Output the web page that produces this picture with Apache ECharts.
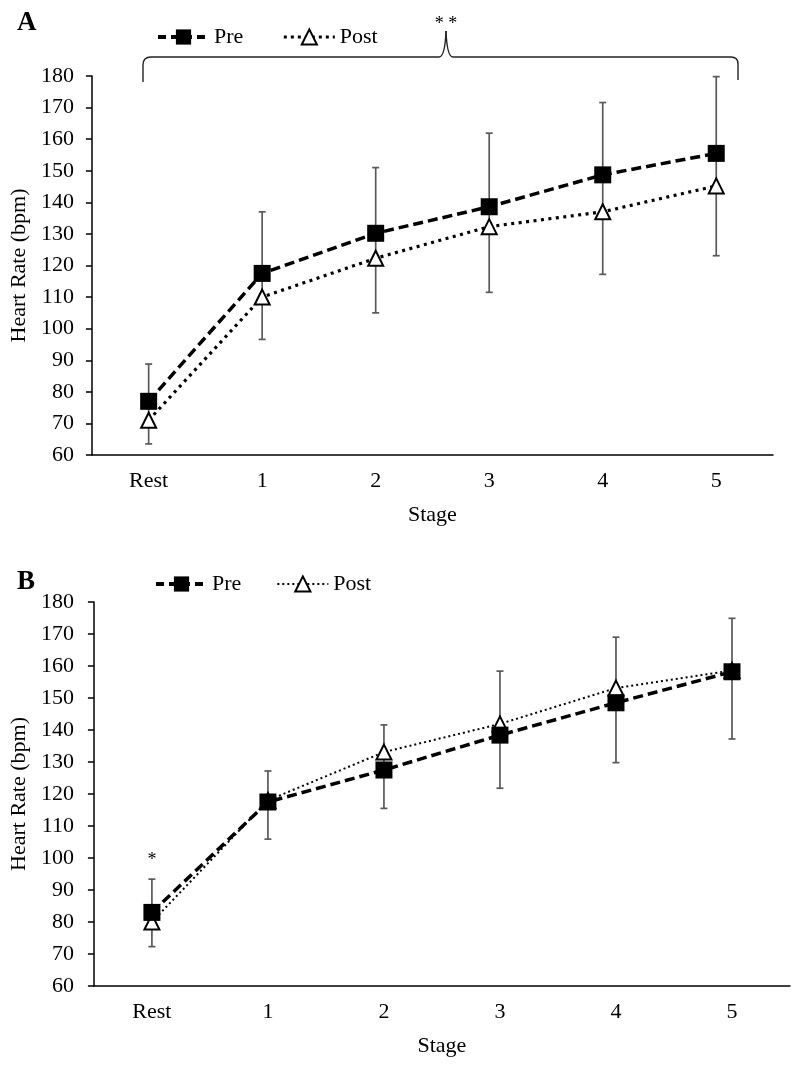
<!DOCTYPE html>
<html>
<head>
<meta charset="utf-8">
<script src="https://cdn.jsdelivr.net/npm/echarts@6/dist/echarts.min.js"></script>
<style>html,body{margin:0;padding:0;background:#fff}#c{width:799px;height:1065px}</style>
</head>
<body>
<div id="c"></div>
<script>
// ---- data ----
const stages = ['Rest', '1', '2', '3', '4', '5'];
const yTicks = [60, 70, 80, 90, 100, 110, 120, 130, 140, 150, 160, 170, 180];

const preA  = [77, 117.5, 130.2, 138.6, 148.7, 155.5];
const postA = [71, 110, 122.3, 132.3, 137, 145.2];
const errALow  = [63.5, 96.6, 105, 111.5, 117.2, 123.1];
const errAHigh = [88.8, 137, 151, 161.9, 171.6, 179.8];

const preB  = [83, 117.5, 127.5, 138.4, 148.5, 158.2];
const postB = [80, 118, 133.1, 141.9, 153.1, 158.6];
const errBLow  = [72.3, 105.9, 115.5, 121.8, 129.8, 137.2];
const errBHigh = [93.4, 127.2, 141.6, 158.4, 169, 174.9];

// ---- styling ----
const FONT = 'Liberation Serif';
const txt = { fontFamily: FONT, fontSize: 22, color: '#000' };

function errData(lo, hi) { return stages.map((s, i) => [i, lo[i], hi[i]]); }
function errRender(params, api) {
  const i = api.value(0);
  const pLo = api.coord([i, api.value(1)]);
  const pHi = api.coord([i, api.value(2)]);
  const w = 3.5;
  const st = { stroke: '#595959', lineWidth: 1.7 };
  return { type: 'group', children: [
    { type: 'line', shape: { x1: pLo[0], y1: pLo[1], x2: pHi[0], y2: pHi[1] }, style: st },
    { type: 'line', shape: { x1: pLo[0] - w, y1: pLo[1], x2: pLo[0] + w, y2: pLo[1] }, style: st },
    { type: 'line', shape: { x1: pHi[0] - w, y1: pHi[1], x2: pHi[0] + w, y2: pHi[1] }, style: st }
  ]};
}

function xAxis(gi) {
  return {
    type: 'category', gridIndex: gi, data: stages, boundaryGap: true,
    axisLine: { lineStyle: { color: '#000', width: 1.5 } },
    axisTick: { show: false },
    axisLabel: Object.assign({ margin: 15 }, txt),
    name: 'Stage', nameLocation: 'middle', nameGap: 49,
    nameTextStyle: txt
  };
}
function yAxis(gi, gap, margin) {
  return {
    type: 'value', gridIndex: gi, min: yTicks[0], max: yTicks[yTicks.length - 1], interval: 10,
    axisLine: { show: true, lineStyle: { color: '#000', width: 1.5 } },
    axisTick: { show: true, length: 6, lineStyle: { color: '#000', width: 1.5 } },
    splitLine: { show: false },
    axisLabel: Object.assign({ margin: margin }, txt),
    name: 'Heart Rate (bpm)', nameLocation: 'middle', nameGap: gap,
    nameTextStyle: txt
  };
}

const braceSt = { stroke: '#222', lineWidth: 1.4, fill: null };
function bl(x1, y1, x2, y2) { return { type: 'line', shape: { x1, y1, x2, y2 }, style: braceSt }; }
function bq(x1, y1, cx, cy, x2, y2) { return { type: 'bezierCurve', shape: { x1, y1, cpx1: cx, cpy1: cy, x2, y2 }, style: braceSt }; }

const preStyle = { color: '#000', width: 3.5, type: [10, 5] };
const chart = echarts.init(document.getElementById('c'), null, { renderer: 'canvas' });
chart.setOption({
  backgroundColor: '#fff',
  animation: false,
  grid: [
    { left: 89, top: 76, width: 684, height: 379 },
    { left: 93, top: 602, width: 697, height: 384 }
  ],
  xAxis: [xAxis(0), xAxis(1)],
  yAxis: [yAxis(0, 58, 18), yAxis(1, 60, 20)],
  legend: [
    { left: 156, top: 26, padding: 0, itemWidth: 51, itemHeight: 19, itemGap: 39, textStyle: txt,
      data: [{ name: 'Pre', lineStyle: { width: 4, type: [8, 5] } }, { name: 'Post', lineStyle: { width: 3, type: [3, 4] } }] },
    { left: 154, top: 573, padding: 0, itemWidth: 51, itemHeight: 19, itemGap: 35, textStyle: txt,
      data: [{ name: 'Pre', lineStyle: { width: 4, type: [8, 5] } }, { name: 'Post', lineStyle: { width: 2, type: [2, 3] } }] }
  ],
  series: [
    { type: 'custom', name: 'errA', xAxisIndex: 0, yAxisIndex: 0, renderItem: errRender,
      data: errData(errALow, errAHigh), encode: { x: 0, y: [1, 2] }, z: 1 },
    { type: 'custom', name: 'errB', xAxisIndex: 1, yAxisIndex: 1, renderItem: errRender,
      data: errData(errBLow, errBHigh), encode: { x: 0, y: [1, 2] }, z: 1 },
    { type: 'line', name: 'Post', xAxisIndex: 0, yAxisIndex: 0, data: postA,
      symbol: 'triangle', symbolSize: 15,
      itemStyle: { color: '#fff', borderColor: '#000', borderWidth: 2 },
      lineStyle: { color: '#000', width: 3.2, type: [3, 4.5] }, z: 3 },
    { type: 'line', name: 'Pre', xAxisIndex: 0, yAxisIndex: 0, data: preA,
      symbol: 'rect', symbolSize: 17,
      itemStyle: { color: '#000' }, lineStyle: preStyle, z: 4 },
    { type: 'line', name: 'Post', xAxisIndex: 1, yAxisIndex: 1, data: postB,
      symbol: 'triangle', symbolSize: 15,
      itemStyle: { color: '#fff', borderColor: '#000', borderWidth: 2 },
      lineStyle: { color: '#000', width: 2, type: [2, 3] }, z: 3 },
    { type: 'line', name: 'Pre', xAxisIndex: 1, yAxisIndex: 1, data: preB,
      symbol: 'rect', symbolSize: 17,
      itemStyle: { color: '#000' }, lineStyle: preStyle, z: 4 }
  ],
  graphic: [
    { type: 'text', x: 17, y: 10, style: { text: 'A', font: 'bold 27px "Liberation Serif"', fill: '#000' } },
    { type: 'text', x: 17, y: 569, style: { text: 'B', font: 'bold 27px "Liberation Serif"', fill: '#000' } },
    { type: 'text', x: 446, y: 24, style: { text: '* *', font: '18px "Liberation Serif"', fill: '#000', align: 'center', verticalAlign: 'middle' } },
    { type: 'text', x: 152, y: 860, style: { text: '*', font: '18px "Liberation Serif"', fill: '#000', align: 'center', verticalAlign: 'middle' } },
    bl(143, 82, 143, 65), bq(143, 65, 143, 57, 151, 57), bl(151, 57, 439, 57),
    bq(439, 57, 445, 57, 446, 31), bq(446, 31, 447, 57, 453, 57), bl(453, 57, 731, 57),
    bq(731, 57, 738, 57, 738, 64), bl(738, 64, 738, 80)
  ]
});
</script>
</body>
</html>
